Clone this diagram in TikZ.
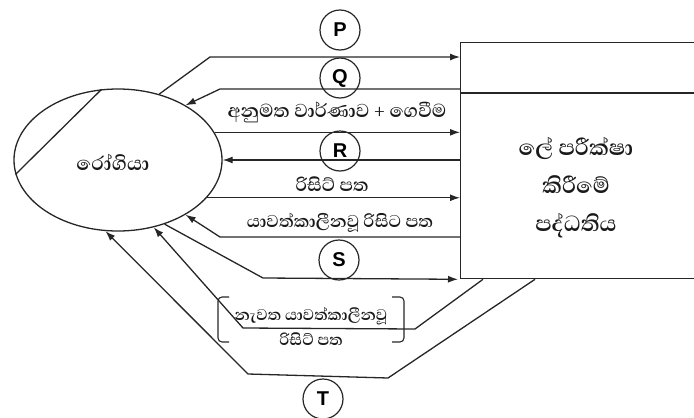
\documentclass[tikz,border=0pt]{standalone}
\usepackage{fontspec}
\newfontfamily\sinfont[Script=Sinhala]{Abhaya Libre}
\newfontfamily\latfont{Liberation Sans}
\usetikzlibrary{arrows.meta,shapes.geometric}
\tikzset{
  ln/.style={draw=black!85, line width=1.3pt},
  flow/.style={ln, -{Latex[length=10pt,width=7pt]}},
  letter/.style={circle, draw=black!85, line width=1.2pt, minimum size=40pt, inner sep=0pt, font=\latfont\bfseries\fontsize{20}{20}\selectfont},
  lbl/.style={font=\sinfont\bfseries\fontsize{#1}{#1}\selectfont, inner sep=0pt, text=black!90},
}
\begin{document}
\begin{tikzpicture}[x=1pt,y=-1pt]
\useasboundingbox (0,0) rectangle (694,418);
% process box
\node[ln, minimum width=260pt, minimum height=236pt, anchor=north west, inner sep=0pt] (sys) at (460,42) {};
\draw[ln] (sys.west |- 0,93) -- (sys.east |- 0,93);
\node[align=center, font=\sinfont\bfseries\fontsize{28}{38}\selectfont, text=black!90, inner sep=0pt] (systxt) at (576,188) {ලේ පරීක්ෂා\\කිරීමේ\\පද්ධතිය};
% patient
\node[ellipse, ln, minimum width=208pt, minimum height=142pt, inner sep=0pt] (pat) at (118,160) {};
\draw[ln] (pat.103) -- (pat.188);
\node[lbl=25] (patlbl) at (113,162) {රෝගියා};
% letters
\node[letter] (P) at (340,30) {P};
\node[letter] (Q) at (340,78) {Q};
\node[letter] (R) at (340,151) {R};
\node[letter] (S) at (339,260) {S};
\node[letter] (T) at (323,399) {T};
% flows
\draw[flow] (pat.58) -- (210,57) -- (sys.west |- 0,57);
\draw[flow] (sys.west |- 0,89) -- (220,89) -- (pat.39);
\node[lbl=24] (l1) at (337,112) {අනුමත වාර්ණාව + ගෙවීම};
\draw[flow] (pat.16) -- (pat.16 -| sys.west);
\draw[flow] (pat.east -| sys.west) -- (pat.east);
\node[lbl=23] (l2) at (332,184) {රිසිට් පත};
\draw[flow] (pat.-23) -- (pat.-23 -| sys.west);
\node[lbl=22] (l3) at (340,223) {යාවත්කාලීනවූ රිසිට පත};
\draw[flow] (sys.west |- 0,237) -- (220,237) -- (pat.-39);
\draw[flow, shorten >=2pt] (pat.-54) -- (263,278) -- (sys.south west);
\draw[flow] ([xshift=23pt]sys.south west) -- (415,329) -- (243,328) -- (pat.-62);
\draw[flow] ([xshift=75pt]sys.south west) -- (388,378) -- (248,374) -- (pat.260);
% bracket label
\node[align=center, font=\sinfont\bfseries\fontsize{20}{25}\selectfont, text=black!90, inner sep=0pt] (l4) at (311,327) {නැවත යාවත්කාලීනවූ\\රිසිට් පත};
\draw[ln, line width=1.1pt, rounded corners=4pt] (229,297) -- (218,297) -- (218,342) -- (229,342);
\draw[ln, line width=1.1pt, rounded corners=4pt] (392,297) -- (404,297) -- (404,342) -- (392,342);
\end{tikzpicture}
\end{document}
